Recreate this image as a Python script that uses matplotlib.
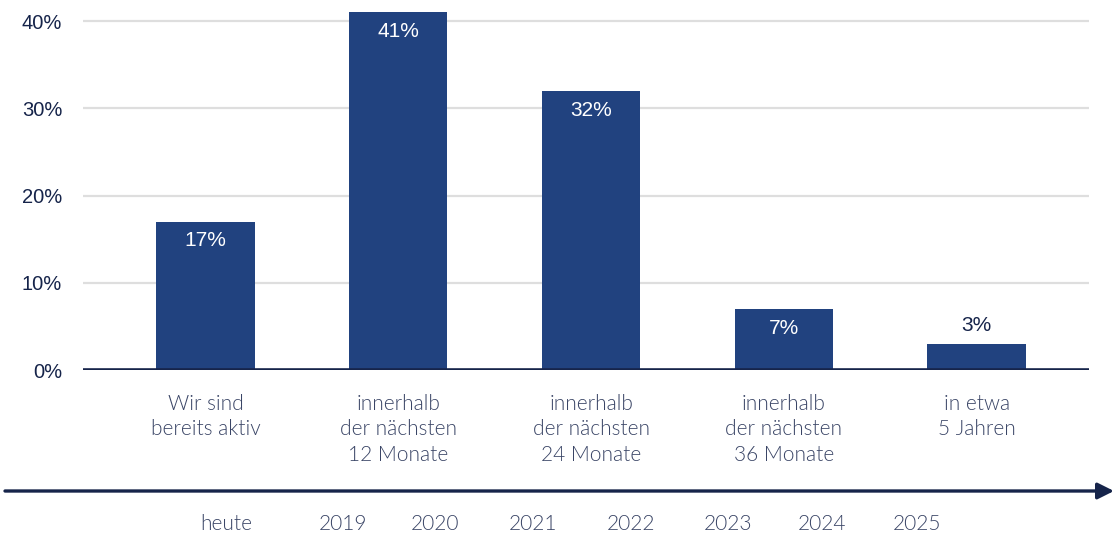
import matplotlib.pyplot as plt
import matplotlib.transforms as mtransforms
from matplotlib.patches import FancyArrowPatch
import numpy as np

# Survey: when do companies plan to start
categories = [
    "Wir sind\nbereits aktiv",
    "innerhalb\nder nächsten\n12 Monate",
    "innerhalb\nder nächsten\n24 Monate",
    "innerhalb\nder nächsten\n36 Monate",
    "in etwa\n5 Jahren",
]
shares = [17, 41, 32, 7, 3]
yticks = [0, 10, 20, 30, 40]

timeline_labels = ["heute", "2019", "2020", "2021", "2022", "2023", "2024", "2025"]
timeline_pos = [0.106, 0.712, 1.189, 1.697, 2.205, 2.712, 3.199, 3.692]

bar_color = "#21427f"
navy = "#16244a"
label_color = "#3a4566"
grid_color = "#dedede"
num_font = "Liberation Sans"
text_font = "Lato"

fig = plt.figure(figsize=(11.14, 5.36), dpi=100)
ax = fig.add_axes([0.0745, 0.3097, 0.9031, 0.6673])

x = np.arange(len(shares))
ax.bar(x, shares, width=0.51, color=bar_color, zorder=3)
ax.set_xlim(-0.635, 4.583)
ax.set_ylim(0, 41)

for v in yticks[1:]:
    ax.axhline(v, color=grid_color, lw=1.6, zorder=1)
ax.axhline(0, color=navy, lw=2.6, zorder=4)

for s in ax.spines.values():
    s.set_visible(False)
ax.set_yticks(yticks)
ax.set_yticklabels([f"{v}%" for v in yticks], fontsize=14.5, color=navy,
                   fontfamily=num_font)
ax.tick_params(axis="y", length=0, pad=15)
ax.set_xticks([])

# value labels: inside the bar if tall enough, otherwise above it
for xi, v in zip(x, shares):
    if v >= 5:
        ax.annotate(f"{v}%", (xi, v), xytext=(0, -7), textcoords="offset points",
                    ha="center", va="top", color="white", fontsize=15,
                    fontfamily=num_font, zorder=5)
    else:
        ax.annotate(f"{v}%", (xi, v), xytext=(0, 6), textcoords="offset points",
                    ha="center", va="bottom", color=navy, fontsize=15,
                    fontfamily=num_font, zorder=5)

# category names below the bars
for xi, label in zip(x, categories):
    ax.annotate(label, (xi, 0), xytext=(0, -17), textcoords="offset points",
                ha="center", va="top", color=label_color, fontsize=15,
                fontfamily=text_font, fontweight=300, linespacing=1.35,
                annotation_clip=False)

# timeline arrow across the figure
arrow_y = 1 - 491 / 536
fig.patches.append(FancyArrowPatch(
    (5 / 1114, arrow_y), (1.0, arrow_y), transform=fig.transFigure,
    arrowstyle="-|>,head_length=0.7,head_width=0.35", mutation_scale=14,
    color=navy, lw=2.4, shrinkA=0, shrinkB=0))

trans = mtransforms.blended_transform_factory(ax.transData, fig.transFigure)
for pos, lab in zip(timeline_pos, timeline_labels):
    fig.text(pos, 1 - 524 / 536, lab, transform=trans, ha="center", va="center",
             color=label_color, fontsize=15, fontfamily=text_font, fontweight=300)

fig.savefig("out.png", dpi=100, facecolor="white")
